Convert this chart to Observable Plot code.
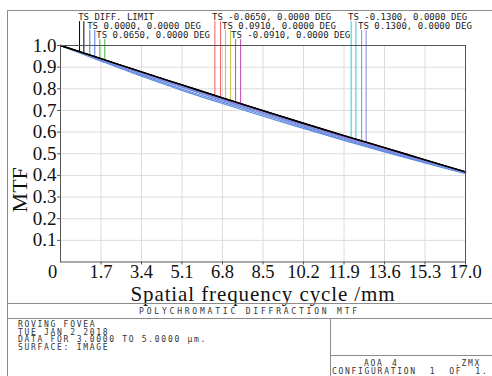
<!DOCTYPE html>
<html><head><meta charset="utf-8">
<script src="https://cdn.jsdelivr.net/npm/d3@7"></script>
<script src="https://cdn.jsdelivr.net/npm/@observablehq/plot@0.6"></script>
<style>
html,body{margin:0;padding:0;background:#fff;}
#wrap{position:relative;width:492px;height:376px;overflow:hidden;background:#fff;}
#chart{position:absolute;left:0;top:0;}
.ln{position:absolute;background:#8c8c8c;}
.mono{position:absolute;font-family:"DejaVu Sans Mono",monospace;font-size:8px;color:#333;white-space:pre;line-height:7px;letter-spacing:1.7px;}
</style></head><body>
<div id="wrap"><div id="chart"></div></div>
<script>
// ---- data ----
const freq = [0, 1.7, 3.4, 5.1, 6.8, 8.5, 10.2, 11.9, 13.6, 15.3, 17.0];
const xTicks = [1.7, 3.4, 5.1, 6.8, 8.5, 10.2, 11.9, 13.6, 15.3, 17.0];
const yTicks = [0.1, 0.2, 0.3, 0.4, 0.5, 0.6, 0.7, 0.8, 0.9, 1.0];

const fieldLabels = [
  "TS DIFF. LIMIT",
  "TS 0.0000, 0.0000 DEG",
  "TS 0.0650, 0.0000 DEG",
  "TS -0.0650, 0.0000 DEG",
  "TS 0.0910, 0.0000 DEG",
  "TS -0.0910, 0.0000 DEG",
  "TS -0.1300, 0.0000 DEG",
  "TS 0.1300, 0.0000 DEG"
];
const mtfDiffT  = [1.000, 0.939, 0.878, 0.818, 0.758, 0.699, 0.641, 0.584, 0.528, 0.472, 0.416];
const mtfDiffS  = [1.000, 0.939, 0.878, 0.818, 0.758, 0.699, 0.641, 0.584, 0.528, 0.472, 0.416];
const mtf0T     = [1.000, 0.928, 0.858, 0.793, 0.732, 0.673, 0.617, 0.562, 0.509, 0.458, 0.408];
const mtf0S     = [1.000, 0.931, 0.863, 0.799, 0.739, 0.680, 0.623, 0.567, 0.513, 0.461, 0.410];
const mtf065T   = [1.000, 0.936, 0.874, 0.813, 0.753, 0.694, 0.636, 0.579, 0.523, 0.468, 0.413];
const mtf065S   = [1.000, 0.937, 0.875, 0.815, 0.755, 0.696, 0.638, 0.581, 0.525, 0.470, 0.414];
const mtfM065T  = [1.000, 0.938, 0.876, 0.816, 0.756, 0.697, 0.639, 0.582, 0.526, 0.471, 0.415];
const mtfM065S  = [1.000, 0.937, 0.875, 0.815, 0.755, 0.696, 0.638, 0.581, 0.525, 0.470, 0.414];
const mtf091T   = [1.000, 0.936, 0.873, 0.812, 0.752, 0.693, 0.635, 0.578, 0.522, 0.468, 0.413];
const mtf091S   = [1.000, 0.937, 0.874, 0.814, 0.754, 0.695, 0.637, 0.580, 0.524, 0.469, 0.414];
const mtfM091T  = [1.000, 0.937, 0.875, 0.814, 0.754, 0.695, 0.637, 0.580, 0.524, 0.469, 0.414];
const mtfM091S  = [1.000, 0.936, 0.874, 0.813, 0.753, 0.694, 0.636, 0.579, 0.523, 0.468, 0.413];
const mtfM13T   = [1.000, 0.934, 0.870, 0.808, 0.747, 0.688, 0.630, 0.574, 0.518, 0.465, 0.411];
const mtfM13S   = [1.000, 0.935, 0.871, 0.810, 0.749, 0.690, 0.632, 0.575, 0.519, 0.466, 0.412];
const mtf13T    = [1.000, 0.934, 0.869, 0.807, 0.746, 0.687, 0.629, 0.573, 0.517, 0.464, 0.411];
const mtf13S    = [1.000, 0.935, 0.871, 0.809, 0.748, 0.689, 0.631, 0.575, 0.519, 0.466, 0.412];
const seriesT = [mtfDiffT, mtf0T, mtf065T, mtfM065T, mtf091T, mtfM091T, mtfM13T, mtf13T];
const seriesS = [mtfDiffS, mtf0S, mtf065S, mtfM065S, mtf091S, mtfM091S, mtfM13S, mtf13S];

// ---- styling / legend layout ----
const fieldColors = ["#000000", "#4a78e0", "#3cb83c", "#f05a5a", "#c8c040", "#c848b8", "#30c8d8", "#8888e0"];
const curveColors = ["#000000", "#5a8ae0", "#3cb83c", "#e03a6a", "#c8c040", "#c848b8", "#30c8d8", "#8888e0"];
const legendRowY   = [1.1316, 1.0901, 1.0485];
const legendTopY   = [1.110, 1.069, 1.027];
const legendRow    = [0, 1, 2, 0, 1, 2, 0, 1];
const legendTextX  = [0.74, 1.12, 1.50, 6.36, 6.78, 7.16, 12.07, 12.49];
const legendLeadT  = [0.80, 1.23, 1.65, 6.48, 6.93, 7.35, 12.20, 12.64];
const legendLeadS  = [0.98, 1.44, 1.86, 6.72, 7.14, 7.56, 12.40, 12.83];

const xTitle = "Spatial frequency cycle /mm";
const footerLeft = ["ROVING FOVEA", "TUE JAN 2 2018", "DATA FOR 3.0000 TO 5.0000 \u00b5m.", "SURFACE: IMAGE"];
const footerTitle = "POLYCHROMATIC DIFFRACTION MTF";

// ---- build tables ----
const rows = [];
fieldLabels.forEach((f, i) => {
  freq.forEach((x, j) => rows.push({x, y: seriesT[i][j], field: f, s: f + "T", order: i === 0 ? 1 : 0}));
  freq.forEach((x, j) => rows.push({x, y: seriesS[i][j], field: f, s: f + "S", order: i === 0 ? 1 : 0}));
});
function interp(arr, x) {
  const i = Math.min(freq.length - 2, Math.max(0, d3.bisectRight(freq, x) - 1));
  const t = (x - freq[i]) / (freq[i + 1] - freq[i]);
  return arr[i] + t * (arr[i + 1] - arr[i]);
}
const leaders = [];
fieldLabels.forEach((f, i) => {
  const top = legendTopY[legendRow[i]];
  leaders.push({x: legendLeadT[i], y1: interp(seriesT[i], legendLeadT[i]), y2: top, field: f});
  leaders.push({x: legendLeadS[i], y1: interp(seriesS[i], legendLeadS[i]), y2: top, field: f});
});
const legendText = fieldLabels.map((f, i) => ({x: legendTextX[i], y: legendRowY[legendRow[i]], text: f}));

const serif = "'Liberation Serif', 'Times New Roman', serif";
const chart = Plot.plot({
  width: 492, height: 303,
  marginLeft: 60, marginRight: 27, marginTop: 45, marginBottom: 41.5,
  style: {fontFamily: serif, background: "transparent", color: "#111", overflow: "visible"},
  x: {domain: [0, 17]},
  y: {domain: [0, 1]},
  color: {domain: fieldLabels, range: curveColors},
  marks: [
    Plot.gridX(xTicks, {stroke: "#dcdcdc", strokeOpacity: 1}),
    Plot.gridY(yTicks, {stroke: "#dcdcdc", strokeOpacity: 1}),
    Plot.ruleX(leaders, {x: "x", y1: "y1", y2: "y2", stroke: d => fieldColors[fieldLabels.indexOf(d.field)], strokeWidth: 1}),
    Plot.line(rows.filter(d => d.order === 0), {x: "x", y: "y", z: "s", stroke: "field", strokeWidth: 1.2, curve: "monotone-x"}),
    Plot.line(rows.filter(d => d.order === 1), {x: "x", y: "y", z: "s", stroke: "field", strokeWidth: 1.4, curve: "monotone-x"}),
    Plot.frame({stroke: "#555"}),
    Plot.axisX(xTicks, {tickFormat: d => d.toFixed(1), tickSize: 3, tickPadding: 0, fontSize: 18.5, label: null, stroke: "#555"}),
    Plot.axisX([0], {tickFormat: d => "0", tickSize: 0, tickPadding: 3, dx: -8, fontSize: 18.5, label: null}),
    Plot.axisY(yTicks, {tickFormat: d => d.toFixed(1), tickSize: 3, tickPadding: 1, fontSize: 19, label: null, stroke: "#555"}),
    Plot.text([xTitle], {frameAnchor: "bottom", lineAnchor: "middle", textAnchor: "middle", text: d => d, dy: 32.5, fontSize: 21}),
    Plot.text(["MTF"], {frameAnchor: "left", textAnchor: "middle", lineAnchor: "middle", text: d => d, rotate: -90, dx: -41, dy: 36, fontSize: 22}),
    Plot.text(legendText, {x: "x", y: "y", text: "text", textAnchor: "start", fontFamily: "'DejaVu Sans Mono', monospace", fontSize: 9, fill: "#222"})
  ]
});
d3.select(chart).selectAll("text").filter(function() { return this.textContent === xTitle; }).attr("letter-spacing", "0.9px");
document.getElementById("chart").appendChild(chart);

// ---- footer / frame ----
const wrap = document.getElementById("wrap");
function line(l, t, w, h) { const d = document.createElement("div"); d.className = "ln"; Object.assign(d.style, {left: l + "px", top: t + "px", width: w + "px", height: h + "px"}); wrap.appendChild(d); }
function txt(s, l, t, extra) { const d = document.createElement("div"); d.className = "mono"; d.textContent = s; Object.assign(d.style, {left: l + "px", top: t + "px"}, extra || {}); wrap.appendChild(d); return d; }
line(7, 10, 1, 366);
line(7, 10, 485, 1);
line(7, 303, 485, 1);
line(7, 318, 485, 1);
line(330, 318, 1, 58);
line(330, 355, 162, 1);
txt(footerTitle, 7, 308, {width: "485px", textAlign: "center", letterSpacing: "2.8px"});
footerLeft.forEach((s, i) => txt(s, 18, 321 + i * 7.6));
txt("AOA", 364, 359.5);
txt("4", 392, 359.5);
txt(".ZMX", 455, 359.5);
txt("CONFIGURATION  1  OF  1.", 332, 367.5);
</script>
</body></html>
